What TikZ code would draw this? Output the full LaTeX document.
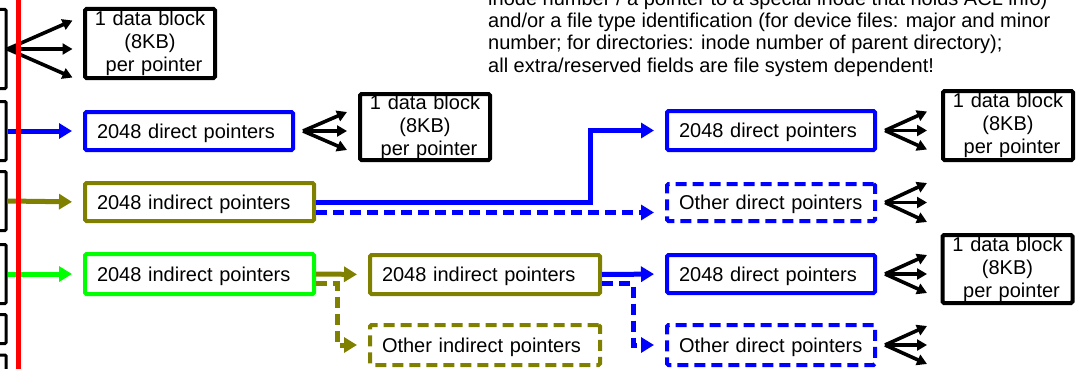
\documentclass[tikz,border=0pt]{standalone}
\usepackage{fontspec}
\setmainfont{Liberation Sans}
\usetikzlibrary{arrows.meta,calc}
\definecolor{olivec}{RGB}{128,128,0}
\definecolor{bluec}{RGB}{0,0,255}
\definecolor{greenc}{RGB}{0,255,0}
\definecolor{redc}{RGB}{255,0,0}
\newcommand\fanout[3]{%
  \draw[fan] (#1) -- ++(#2,-#3);
  \draw[fan] (#1) -- ++(#2,0);
  \draw[fan] (#1) -- ++(#2,#3);}
\begin{document}
\begin{tikzpicture}[x=1pt,y=-1pt,
  every node/.style={font=\fontsize{20}{23}\selectfont},
  pbox/.style={draw, line width=4pt, rounded corners=1.5pt, align=left,
    inner xsep=12pt, inner ysep=0pt, fill=white, text height=14.5pt, text depth=0pt},
  dbox/.style={draw=black, line width=4pt, rounded corners=1.5pt, align=center,
    text width=122pt, minimum width=130pt, inner xsep=4pt, inner ysep=0pt, fill=white},
  lbox/.style={draw=black, line width=3pt, rounded corners=1pt, minimum width=40pt, inner sep=0pt},
  ddash/.style={dash pattern=on 11pt off 6pt},
  conn/.style={line width=5pt, shorten >=11pt, -{Triangle[length=13pt,width=15pt]}},
  fan/.style={draw=black, line width=3.6pt, -{Triangle[length=10pt,width=11pt]}},
  txt/.style={anchor=base west, inner sep=0pt}]
\useasboundingbox (0,0) rectangle (1078,369);
\clip (0,0) rectangle (1078,369);

% top text
\node[txt] (t1) at (488,6) {inode number / a pointer to a special inode that holds ACL info)};
\node[txt] (t2) at (488,28) {and/or a file type identification (for device files: major and minor};
\node[txt] (t3) at (488,50) {number; for directories: inode number of parent directory);};
\node[txt] (t4) at (488,72) {all extra/reserved fields are file system dependent!};

% left boxes
\node[lbox, minimum height=79pt] (L1) at (-14,49) {};
\node[lbox, minimum height=59pt] (L2) at (-14,131) {};
\node[lbox, minimum height=59pt] (L3) at (-14,201) {};
\node[lbox, minimum height=59pt] (L4) at (-14,274) {};
\node[lbox, minimum height=29pt] (L5) at (-14,329) {};
\node[lbox, minimum height=30pt] (L6) at (-14,370) {};

% data blocks
\node[dbox, minimum height=69pt] (D1) at (150,43.5) {1 data block\\(8KB)\\\hspace*{0.4em}per pointer};
\node[dbox, minimum height=66pt] (D2) at (425,127) {1 data block\\(8KB)\\\hspace*{0.4em}per pointer};
\node[dbox, minimum height=69pt] (D3) at (1008,125.5) {1 data block\\(8KB)\\\hspace*{0.4em}per pointer};
\node[dbox, minimum height=68pt] (D4) at (1007.5,269) {1 data block\\(8KB)\\\hspace*{0.4em}per pointer};

% pointer boxes
\node[pbox, draw=bluec, text width=184pt, minimum height=38pt] (B1) at (189,131) {2048 direct pointers};
\node[pbox, draw=olivec, text width=205pt, minimum height=38pt] (O1) at (199.5,202) {2048 indirect pointers};
\node[pbox, draw=greenc, text width=205pt, minimum height=40pt] (G1) at (199.5,274) {2048 indirect pointers};
\node[pbox, draw=olivec, text width=206pt, minimum height=39pt] (O2) at (485,274.5) {2048 indirect pointers};
\node[pbox, draw=olivec, ddash, text width=206pt, minimum height=40pt] (OD2) at (485,345) {Other indirect pointers};
\node[pbox, draw=bluec, text width=184pt, minimum height=39pt] (B2) at (771,130.5) {2048 direct pointers};
\node[pbox, draw=bluec, ddash, text width=184pt, minimum height=37pt] (BD2) at (771,202.5) {Other direct pointers};
\node[pbox, draw=bluec, text width=184pt, minimum height=38pt] (B3) at (771,274) {2048 direct pointers};
\node[pbox, draw=bluec, ddash, text width=184pt, minimum height=40pt] (BD3) at (771,345) {Other direct pointers};

% connectors from the left
\draw[conn, bluec] (L2.east) -- (B1.west);
\draw[conn, olivec] (L3.east) -- (O1.west);
\draw[conn, greenc] (L4.east) -- (G1.west);

% indirect -> direct
\coordinate (k1) at (590,0);
\draw[conn, bluec] (O1.east) -- (O1.east -| k1) |- (B2.west);
\draw[conn, bluec, ddash] ($(O1.east)+(0,10.5)$) -- ($(BD2.west)+(0,10)$);

\coordinate (k2) at (337,0);
\draw[conn, olivec] (G1.east) -- (O2.west);
\draw[conn, olivec, ddash] ($(G1.east)+(0,9.5)$) coordinate (g1d) -- (g1d -| k2) |- (OD2.west);

\coordinate (k3) at (633,0);
\draw[conn, bluec] (O2.east) -- (B3.west);
\draw[conn, bluec, ddash] ($(O2.east)+(0,9)$) coordinate (o2d) -- (o2d -| k3) |- (BD3.west);

% fans
\coordinate (a0) at (L1.east);
\fanout{a0}{65}{28.5}
\coordinate (a1) at ($(B1.east)+(8,0)$);
\fanout{a1}{44}{19}
\coordinate (a2) at ($(B2.east)+(8,0)$);
\fanout{a2}{42}{19}
\coordinate (a3) at ($(BD2.east)+(8,0)$);
\fanout{a3}{42}{19.5}
\coordinate (a4) at ($(B3.east)+(8,0)$);
\fanout{a4}{42}{19}
\coordinate (a5) at ($(BD3.east)+(8,0)$);
\fanout{a5}{42}{19}

% red line
\coordinate (r0) at (18.5,-5);
\coordinate (r1) at (18.5,380);
\draw[redc, line width=5pt] (r0) -- (r1);
\end{tikzpicture}
\end{document}
